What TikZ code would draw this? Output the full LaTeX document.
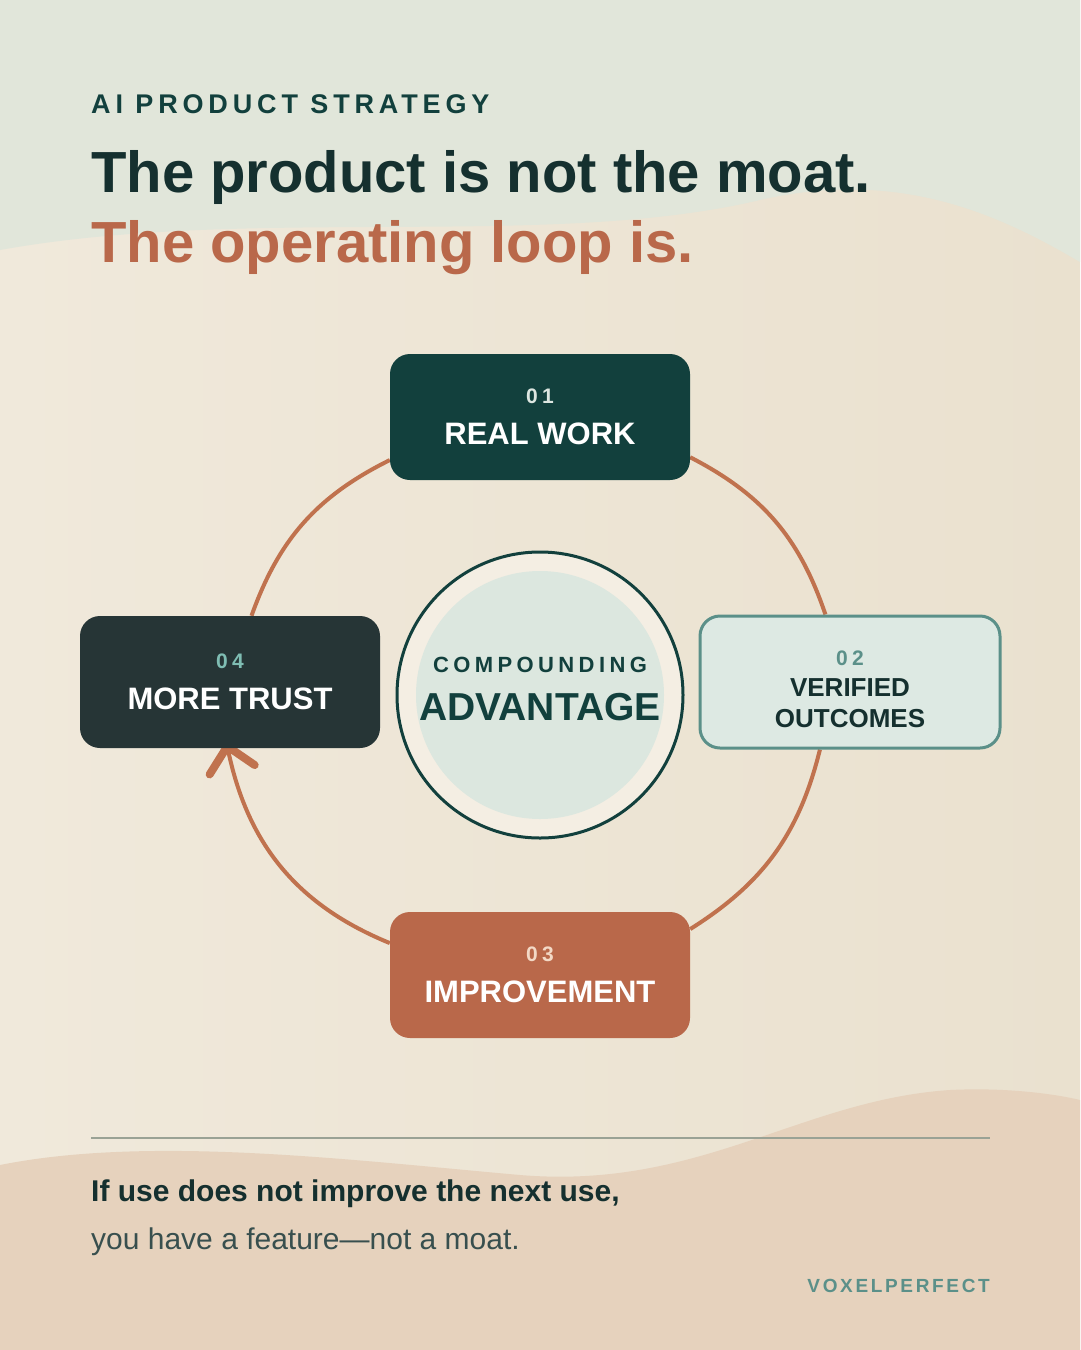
\documentclass[tikz,border=0pt]{standalone}
\usepackage{fontspec}
\setmainfont{Liberation Sans}
\usetikzlibrary{arrows.meta,positioning}

\definecolor{sage}{HTML}{E1E6DA}
\definecolor{creamL}{HTML}{F0E9DB}
\definecolor{creamR}{HTML}{EAE1CF}
\definecolor{tan}{HTML}{E6D2BD}
\definecolor{ink}{HTML}{15302F}
\definecolor{deepteal}{HTML}{12403D}
\definecolor{slate}{HTML}{263536}
\definecolor{rust}{HTML}{B9684A}
\definecolor{loopc}{HTML}{C0724E}
\definecolor{mint}{HTML}{DDE9E3}
\definecolor{mintedge}{HTML}{5B9089}
\definecolor{ring}{HTML}{F4EEE3}
\definecolor{coremint}{HTML}{DCE7DF}
\definecolor{rulec}{HTML}{9AA295}
\definecolor{lightnum}{HTML}{DDE6E1}
\definecolor{tealnum}{HTML}{7FBDB3}
\definecolor{peachnum}{HTML}{F3D9C6}

\pgfdeclarelayer{bg}
\pgfdeclarelayer{loop}
\pgfsetlayers{bg,loop,main}

\newcommand\stepnum[1]{{\fontsize{21}{24}\selectfont\bfseries\addfontfeature{LetterSpace=20}#1}}

\tikzset{
  stepbox/.style={rectangle, rounded corners=20pt, minimum width=300pt,
    inner sep=0pt, align=center, font=\fontsize{31}{36}\selectfont\bfseries},
  loopline/.style={draw=loopc, line width=4pt},
}

\begin{document}
\begin{tikzpicture}[x=1pt,y=-1pt]
  \useasboundingbox (0,0) rectangle (1080,1350);

  % backdrop
  \begin{pgfonlayer}{bg}
    \shade[left color=creamL, right color=creamR] (0,0) rectangle (1080,1350);
    \fill[sage]
      (0,250) .. controls (250,205) and (550,250) .. (760,200)
      .. controls (900,168) and (1000,215) .. (1080,262)
      -- (1080,0) -- (0,0) -- cycle;
    \fill[tan]
      (0,1165) .. controls (150,1135) and (350,1160) .. (520,1175)
      .. controls (700,1190) and (800,1100) .. (950,1090)
      .. controls (1010,1087) and (1060,1095) .. (1080,1100)
      -- (1080,1350) -- (0,1350) -- cycle;
  \end{pgfonlayer}

  % heading
  \node[anchor=base west, inner sep=0pt, text=deepteal,
    font=\fontsize{27}{30}\selectfont\bfseries\addfontfeature{LetterSpace=18}]
    (kicker) at (91,113) {AI PRODUCT STRATEGY};
  \node[anchor=base west, inner sep=0pt, text=ink,
    font=\fontsize{58}{70}\selectfont\bfseries]
    (title) at (91,192) {The product is not the moat.};
  \node[anchor=base west, inner sep=0pt, text=rust,
    font=\fontsize{58}{70}\selectfont\bfseries]
    (subtitle) at (91,262) {The operating loop is.};

  % loop steps
  \node[stepbox, fill=deepteal, text=white, minimum height=126pt]
    (work) at (540,417) {\textcolor{lightnum}{\stepnum{01}}\\[5pt]REAL WORK};
  \node[stepbox, fill=mint, draw=mintedge, line width=3pt, text=ink,
    minimum height=132pt, font=\fontsize{26}{31}\selectfont\bfseries]
    (verified) at (850,682)
    {\rule{0pt}{29pt}\textcolor{mintedge}{\stepnum{02}}\\VERIFIED\\OUTCOMES};
  \node[stepbox, fill=rust, text=white, minimum height=126pt]
    (improve) at (540,975) {\textcolor{peachnum}{\stepnum{03}}\\[5pt]IMPROVEMENT};
  \node[stepbox, fill=slate, text=white, minimum height=132pt]
    (trust) at (230,682) {\textcolor{tealnum}{\stepnum{04}}\\[5pt]MORE TRUST};

  % centre
  \node[circle, minimum size=286pt, inner sep=0pt, fill=ring, draw=deepteal,
    line width=3pt, align=center, text=deepteal,
    path picture={\fill[coremint] (path picture bounding box.center) circle (124pt);}]
    (core) at (540,695)
    {{\fontsize{22}{26}\selectfont\bfseries\addfontfeature{LetterSpace=20}COMPOUNDING}\\[19pt]
     {\fontsize{39}{44}\selectfont\bfseries ADVANTAGE}\rule[-12pt]{0pt}{12pt}};

  \begin{pgfonlayer}{loop}
    \draw[loopline] (work.-15) to[bend left=22] (verified.110);
    \draw[loopline] (verified.-114) to[bend left=22] (improve.17);
    \draw[loopline, shorten >=-6pt,
      -{Straight Barb[length=24pt,width=46pt,line width=8pt,round]}]
      (improve.168) to[bend left=28] (trust.-92);
    \draw[loopline] (trust.72) to[bend left=22] (work.196);
  \end{pgfonlayer}

  % closing line
  \draw[rulec, line width=2pt] (91,1138) -- (990,1138);
  \node[anchor=base west, inner sep=0pt, text=ink,
    font=\fontsize{30}{34}\selectfont\bfseries]
    (punch) at (91,1201) {If use does not improve the next use,};
  \node[anchor=base west, inner sep=0pt, text=ink!85!white,
    font=\fontsize{30}{34}\selectfont]
    (punch2) at (91,1249) {you have a feature---not a moat.};
  \node[anchor=base east, inner sep=0pt, text=mintedge,
    font=\fontsize{19}{22}\selectfont\bfseries\addfontfeature{LetterSpace=14}]
    (brand) at (990,1292) {VOXELPERFECT};
\end{tikzpicture}
\end{document}
